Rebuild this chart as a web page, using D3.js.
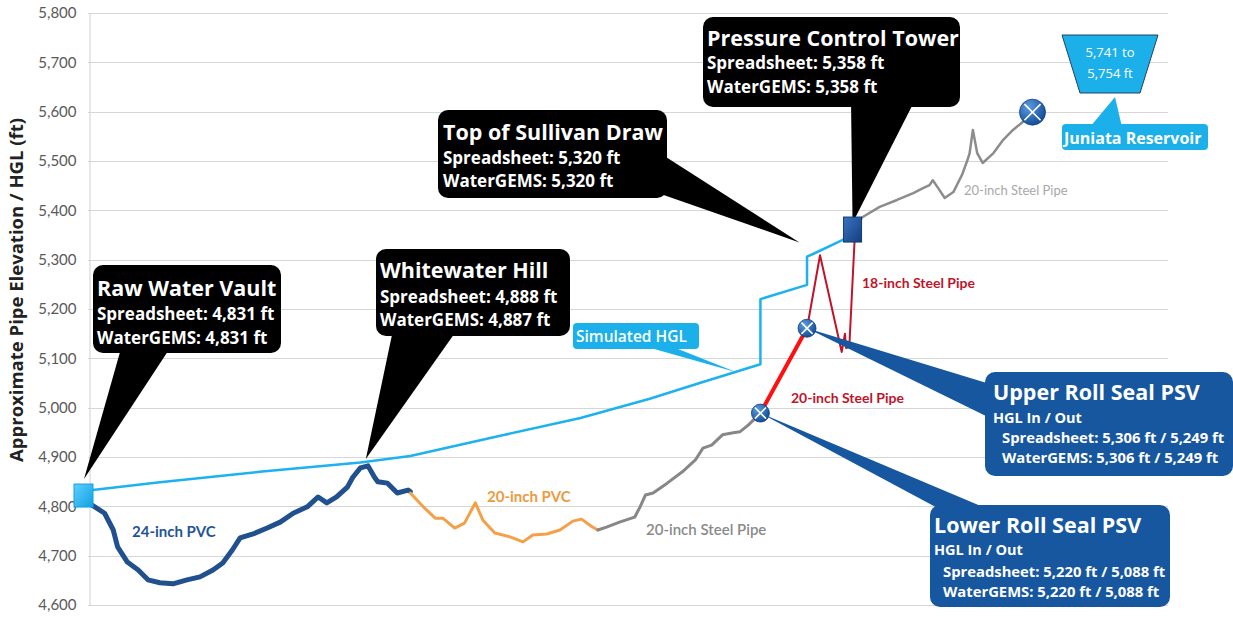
<!DOCTYPE html>
<html>
<head>
<meta charset="utf-8">
<title>Pipe profile</title>
<script src="https://d3js.org/d3.v7.min.js"></script>
<style>
  body { margin: 0; background: #fff; }
  svg text { font-family: "Open Sans", Lato, sans-serif; }
</style>
</head>
<body>
<script>
// distance along the route is given as % of the route (no x axis on the chart)
const yTicks = [4600, 4700, 4800, 4900, 5000, 5100, 5200, 5300, 5400, 5500, 5600, 5700, 5800];

const pvc24 = [[0.7,4803],[1.9,4786],[2.7,4752],[3.1,4718],[4.0,4687],[5.0,4671],[5.9,4651],[7.0,4645],
  [8.2,4643],[9.5,4651],[10.7,4657],[11.9,4671],[12.8,4685],[13.7,4712],[14.4,4736],[15.6,4744],
  [16.9,4756],[18.1,4768],[19.3,4786],[20.6,4799],[21.6,4819],[22.4,4807],[23.3,4819],[24.3,4839],
  [24.8,4859],[25.5,4878],[26.2,4882],[26.8,4859],[27.1,4850],[28.0,4847],[28.9,4827],[29.9,4833],[30.1,4830]];

const pvc20 = [[30.1,4827],[31.3,4799],[32.4,4776],[33.1,4776],[34.2,4756],[35.1,4766],[36.1,4807],
  [36.8,4772],[37.9,4746],[39.3,4738],[40.5,4728],[41.4,4742],[42.7,4744],[43.9,4752],[45.1,4770],
  [45.9,4774],[46.9,4758],[47.4,4752]];

const steelLower = [[47.4,4752],[48.2,4758],[49.4,4768],[50.8,4778],[51.3,4799],[51.8,4823],[52.5,4827],
  [53.8,4847],[55.2,4870],[56.4,4894],[57.1,4918],[57.9,4924],[58.9,4945],[59.9,4949],[60.5,4951],
  [61.3,4965],[62.4,4989]];

const steelRed20 = [[62.4,4989],[66.7,5161]];

const steel18 = [[66.7,5161],[67.9,5309],[69.9,5113],[70.2,5150],[70.3,5121],[70.6,5123],[71.1,5345]];

const steelUpper = [[70.9,5358],[71.8,5386],[73.4,5407],[75.0,5421],[76.5,5435],[77.4,5445],[78.0,5451],
  [78.3,5461],[78.8,5445],[79.4,5425],[80.2,5437],[81.0,5472],[81.5,5502],[81.7,5516],[82.0,5563],
  [82.4,5516],[82.9,5496],[83.9,5516],[84.8,5543],[85.7,5563],[86.6,5579],[87.5,5599]];

const hgl = [[0,4831],[7.0,4849],[16.2,4870],[25.5,4889],[30.1,4902],[38.4,4943],[45.8,4979],
  [52.2,5018],[56.8,5050],[62.4,5088],[62.4,5220],[66.7,5249],[66.7,5306],[67.3,5312],[70.0,5340],[70.9,5358]];

// key points
const vault = [0, 4831];
const whitewater = [26.0, 4884];
const sullivan = [66.0, 5335];
const tower = [70.9, 5358];
const lowerPSV = [62.4, 4989];
const upperPSV = [66.7, 5161];
const juniata = [87.5, 5599];

const W = 1233, H = 617;
const x = d3.scaleLinear().domain([0, 100]).range([84, 1168]);
const y = d3.scaleLinear().domain([4600, 5800]).range([605, 13]);

const svg = d3.select("body").append("svg").attr("width", W).attr("height", H);

const defs = svg.append("defs");
const rg = defs.append("radialGradient").attr("id", "ball").attr("cx", "35%").attr("cy", "30%").attr("r", "70%");
rg.append("stop").attr("offset", "0%").attr("stop-color", "#5d9be0");
rg.append("stop").attr("offset", "100%").attr("stop-color", "#144f97");
const lg = defs.append("linearGradient").attr("id", "sq").attr("x1", 0).attr("x2", 1).attr("y1", 0).attr("y2", 1);
lg.append("stop").attr("offset", "0%").attr("stop-color", "#5fd0ff");
lg.append("stop").attr("offset", "100%").attr("stop-color", "#0fa0e0");
const lg2 = defs.append("linearGradient").attr("id", "sq2").attr("x1", 0).attr("x2", 1).attr("y1", 0).attr("y2", 1);
lg2.append("stop").attr("offset", "0%").attr("stop-color", "#3b73c0");
lg2.append("stop").attr("offset", "100%").attr("stop-color", "#123f80");

// grid
svg.append("g")
  .selectAll("line")
  .data(yTicks)
  .join("line")
    .attr("x1", 88).attr("x2", 1168)
    .attr("y1", d => Math.round(y(d)) + 0.5).attr("y2", d => Math.round(y(d)) + 0.5)
    .attr("stroke", "#d6d6d6");

let yAxis = svg.append("g")
  .attr("transform", "translate(89.5,0)")
  .call(d3.axisLeft(y).tickValues(yTicks).tickSize(0).tickPadding(13).tickFormat(d3.format(",")));
yAxis.select(".domain").attr("stroke", "#d0d0d0");
yAxis.selectAll("text").attr("font-size", 15).attr("fill", "#595959").style("font-family", "Lato");

svg.append("text")
  .attr("transform", "translate(23,290) rotate(-90)")
  .attr("text-anchor", "middle")
  .attr("font-size", 18.5).attr("font-weight", "bold").attr("fill", "#222")
  .text("Approximate Pipe Elevation / HGL (ft)");

const line = d3.line().x(d => x(d[0])).y(d => y(d[1]));

function drawPipe(data, color, width) {
  svg.append("path")
    .datum(data)
    .attr("d", line)
    .attr("fill", "none")
    .attr("stroke", color)
    .attr("stroke-width", width)
    .attr("stroke-linejoin", "round")
    .attr("stroke-linecap", "round");
}

drawPipe(hgl, "#1db2ee", 2.5);
drawPipe(pvc24, "#20508e", 5);
drawPipe(pvc20, "#f4a048", 3);
drawPipe(steelLower, "#878787", 3);
drawPipe(steelRed20, "#ff1010", 4);
drawPipe(steel18, "#c0142a", 2);
drawPipe(steelUpper, "#8c8c8c", 2.5);

// pipe labels
function label(txt, px, py, color, size, weight) {
  svg.append("text").attr("x", px).attr("y", py).attr("fill", color)
    .attr("font-size", size).attr("font-weight", weight || "bold").style("font-family", "Lato").text(txt);
}
label("24-inch PVC", 132, 537, "#1f5596", 15);
label("20-inch PVC", 487, 502, "#ec9a40", 15);
label("20-inch Steel Pipe", 646, 535, "#8a8a8a", 15, 600);
label("20-inch Steel Pipe", 791, 403, "#c0142a", 14);
label("18-inch Steel Pipe", 862, 288, "#c0142a", 14);
label("20-inch Steel Pipe", 964, 195, "#a8a8a8", 13, "normal");

// callouts
function callout(box, pointer, fill, lines) {
  const g = svg.append("g");
  g.append("polygon")
    .attr("points", pointer.map(p => p.join(",")).join(" "))
    .attr("fill", fill);
  g.append("rect")
    .attr("x", box[0]).attr("y", box[1]).attr("width", box[2]).attr("height", box[3])
    .attr("rx", 10).attr("fill", fill);
  lines.forEach(l => {
    g.append("text").attr("x", box[0] + l.dx).attr("y", box[1] + l.dy)
      .attr("fill", "#fff").attr("font-size", l.size).attr("font-weight", "bold").text(l.t);
  });
}

const P = d => [x(d[0]), y(d[1])];

callout([93, 265, 188, 88], [[122, 345], [172, 345], [P(vault)[0], P(vault)[1] - 12]], "#000", [
  { t: "Raw Water Vault", dx: 4, dy: 31, size: 21.5 },
  { t: "Spreadsheet: 4,831 ft", dx: 4, dy: 55, size: 17 },
  { t: "WaterGEMS: 4,831 ft", dx: 4, dy: 79, size: 17 }
]);

callout([376, 249, 194, 87], [[393, 330], [457, 330], [P(whitewater)[0], P(whitewater)[1] - 6]], "#000", [
  { t: "Whitewater Hill", dx: 4, dy: 29, size: 21.5 },
  { t: "Spreadsheet: 4,888 ft", dx: 4, dy: 54, size: 17 },
  { t: "WaterGEMS: 4,887 ft", dx: 4, dy: 77, size: 17 }
]);

callout([438, 110, 229, 88], [[655, 150], [655, 192], P(sullivan)], "#000", [
  { t: "Top of Sullivan Draw", dx: 5, dy: 30, size: 21.5 },
  { t: "Spreadsheet: 5,320 ft", dx: 5, dy: 54, size: 17 },
  { t: "WaterGEMS: 5,320 ft", dx: 5, dy: 77, size: 17 }
]);

callout([703, 17, 257, 90], [[851, 100], [915, 100], [P(tower)[0], P(tower)[1] - 8]], "#000", [
  { t: "Pressure Control Tower", dx: 4, dy: 29, size: 21.5 },
  { t: "Spreadsheet: 5,358 ft", dx: 4, dy: 52, size: 17 },
  { t: "WaterGEMS: 5,358 ft", dx: 4, dy: 76, size: 17 }
]);

callout([985, 372, 248, 104], [P(upperPSV), [990, 384], [990, 418]], "#17579f", [
  { t: "Upper Roll Seal PSV", dx: 8, dy: 28, size: 21.5 },
  { t: "HGL In / Out", dx: 8, dy: 51, size: 14.5 },
  { t: "Spreadsheet: 5,306 ft / 5,249 ft", dx: 17, dy: 71, size: 14.8 },
  { t: "WaterGEMS: 5,306 ft / 5,249 ft", dx: 17, dy: 91, size: 14.8 }
]);

callout([930, 505, 240, 102], [P(lowerPSV), [945, 512], [995, 512]], "#17579f", [
  { t: "Lower Roll Seal PSV", dx: 4, dy: 28, size: 21.5 },
  { t: "HGL In / Out", dx: 4, dy: 50, size: 14.5 },
  { t: "Spreadsheet: 5,220 ft / 5,088 ft", dx: 13, dy: 72, size: 14.8 },
  { t: "WaterGEMS: 5,220 ft / 5,088 ft", dx: 13, dy: 92, size: 14.8 }
]);

// Simulated HGL tag
svg.append("polygon").attr("points", `640,345 668,345 ${x(60.2)},${y(5072)}`).attr("fill", "#1cb0ea");
svg.append("rect").attr("x", 573).attr("y", 323).attr("width", 126).attr("height", 26).attr("rx", 4).attr("fill", "#1cb0ea");
svg.append("text").attr("x", 576).attr("y", 342).attr("fill", "#fff").attr("font-size", 15.5).attr("font-weight", 600).text("Simulated HGL");

// Juniata reservoir
svg.append("polygon").attr("points", "1062,35 1158,35 1140,93 1080,93")
  .attr("fill", "#1cb0ea").attr("stroke", "#24425f").attr("stroke-width", 1);
svg.append("text").attr("x", 1110).attr("y", 57).attr("text-anchor", "middle").attr("fill", "#fff").attr("font-size", 13).text("5,741 to");
svg.append("text").attr("x", 1110).attr("y", 78).attr("text-anchor", "middle").attr("fill", "#fff").attr("font-size", 13).text("5,754 ft");
svg.append("polygon").attr("points", "1090,127 1122,127 1115,97").attr("fill", "#1cb0ea");
svg.append("rect").attr("x", 1062).attr("y", 124).attr("width", 146).attr("height", 26).attr("rx", 4).attr("fill", "#1cb0ea");
svg.append("text").attr("x", 1064).attr("y", 144).attr("fill", "#fff").attr("font-size", 16).attr("font-weight", "bold").text("Juniata Reservoir");

// markers
svg.append("rect")
  .attr("x", P(vault)[0] - 10).attr("y", P(vault)[1] - 7).attr("width", 19).attr("height", 23)
  .attr("fill", "url(#sq)").attr("stroke", "#14a0e0");

svg.append("rect")
  .attr("x", P(tower)[0] - 9).attr("y", P(tower)[1] - 14).attr("width", 18).attr("height", 25)
  .attr("fill", "url(#sq2)").attr("stroke", "#0f3a78");

function valve(pt, r) {
  const [cx, cy] = P(pt);
  const g = svg.append("g").attr("transform", `translate(${cx},${cy})`);
  g.append("circle").attr("r", r).attr("fill", "url(#ball)").attr("stroke", "#123f80").attr("stroke-width", 0.8);
  const k = r * 0.62;
  g.append("path").attr("d", `M${-k},${-k}L${k},${k}M${-k},${k}L${k},${-k}`)
    .attr("stroke", "#fff").attr("stroke-width", 1.6);
}
valve(lowerPSV, 9);
valve(upperPSV, 9);
valve(juniata, 13);
</script>
</body>
</html>
